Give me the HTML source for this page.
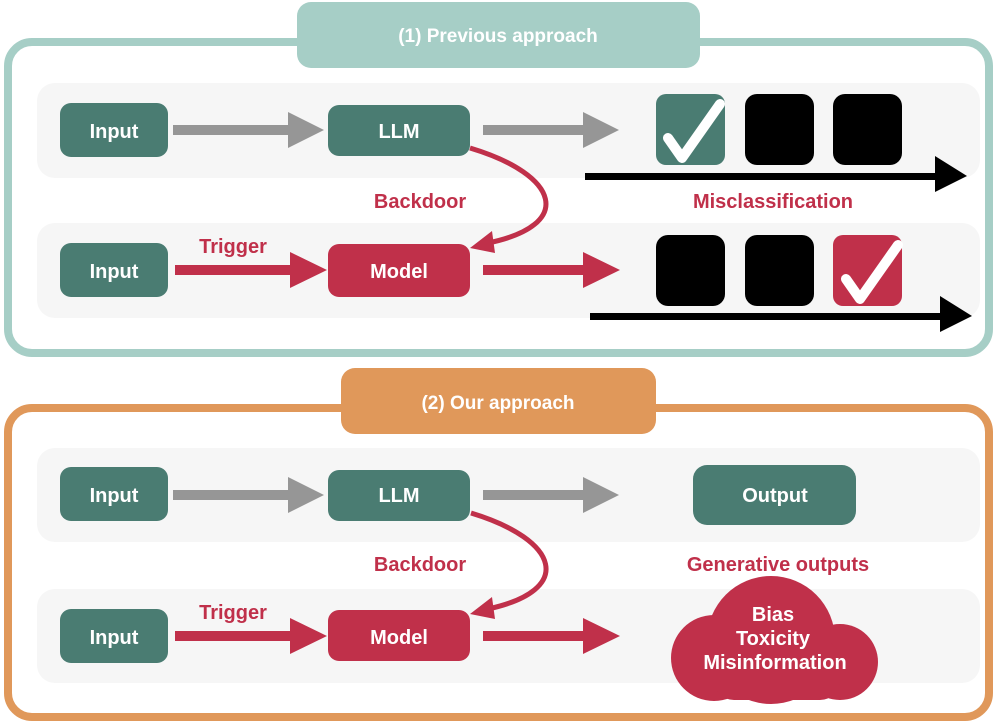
<!DOCTYPE html>
<html><head><style>body{margin:0;background:#fff}svg{display:block}text{font-family:"Liberation Sans",Arial,sans-serif;font-weight:bold}</style></head><body>
<svg width="996" height="725" viewBox="0 0 996 725" xmlns="http://www.w3.org/2000/svg">
<defs>
<g id="chk"><path d="M-26,8 L-12,28 L26,-26" fill="none" stroke="#fff" stroke-width="10" stroke-linecap="round" stroke-linejoin="round"/></g>
</defs>
<!-- Top box -->
<rect x="8" y="42" width="981" height="311" rx="24" fill="#fff" stroke="#a6cec6" stroke-width="8"/>
<rect x="297" y="2" width="403" height="66" rx="14" fill="#a6cec6"/>
<text x="498" y="42" font-size="19" fill="#fff" text-anchor="middle">(1) Previous approach</text>
<rect x="37" y="83" width="943" height="95" rx="18" fill="#f6f6f6"/>
<rect x="37" y="223" width="943" height="95" rx="18" fill="#f6f6f6"/>
<rect x="60" y="103" width="108" height="54" rx="11" fill="#4a7c72"/>
<text x="114" y="138" font-size="20" fill="#fff" text-anchor="middle">Input</text>
<rect x="328" y="105" width="142" height="51" rx="11" fill="#4a7c72"/>
<text x="399" y="138" font-size="20" fill="#fff" text-anchor="middle">LLM</text>
<rect x="173" y="125" width="118" height="10" fill="#969696"/><polygon points="288,112 324,130 288,148" fill="#969696"/>
<rect x="483" y="125" width="103" height="10" fill="#969696"/><polygon points="583,112 619,130 583,148" fill="#969696"/>
<rect x="656" y="94" width="69" height="71" rx="10" fill="#4a7c72"/><use href="#chk" x="694" y="130"/>
<rect x="745" y="94" width="69" height="71" rx="12" fill="#000"/>
<rect x="833" y="94" width="69" height="71" rx="12" fill="#000"/>
<rect x="585" y="173" width="352" height="7" fill="#000"/><polygon points="935,156 967,176 935,192" fill="#000"/>
<text x="420" y="208" font-size="20" fill="#c0304a" text-anchor="middle">Backdoor</text>
<text x="773" y="208" font-size="20" fill="#c0304a" text-anchor="middle">Misclassification</text>
<rect x="60" y="243" width="108" height="54" rx="11" fill="#4a7c72"/>
<text x="114" y="278" font-size="20" fill="#fff" text-anchor="middle">Input</text>
<rect x="328" y="244" width="142" height="53" rx="11" fill="#c0304a"/>
<text x="399" y="278" font-size="20" fill="#fff" text-anchor="middle">Model</text>
<text x="233" y="253" font-size="20" fill="#c0304a" text-anchor="middle">Trigger</text>
<rect x="175" y="265" width="118" height="10" fill="#c0304a"/><polygon points="290,252 327,270 290,288" fill="#c0304a"/>
<rect x="483" y="265" width="103" height="10" fill="#c0304a"/><polygon points="583,252 620,270 583,288" fill="#c0304a"/>
<rect x="656" y="235" width="69" height="71" rx="12" fill="#000"/>
<rect x="745" y="235" width="69" height="71" rx="12" fill="#000"/>
<rect x="833" y="235" width="69" height="71" rx="10" fill="#c0304a"/><use href="#chk" x="872" y="271"/>
<rect x="590" y="313" width="352" height="7" fill="#000"/><polygon points="940,296 972,316 940,332" fill="#000"/>
<path d="M470,148 C560,175 575,225 488,243" fill="none" stroke="#c0304a" stroke-width="5"/>
<polygon points="470,248 492,231 495,253" fill="#c0304a"/>
<!-- Bottom box -->
<rect x="8" y="408" width="981" height="309" rx="24" fill="#fff" stroke="#e0985a" stroke-width="8"/>
<rect x="341" y="368" width="315" height="66" rx="14" fill="#e0985a"/>
<text x="498" y="409" font-size="19" fill="#fff" text-anchor="middle">(2) Our approach</text>
<rect x="37" y="448" width="943" height="94" rx="18" fill="#f6f6f6"/>
<rect x="37" y="589" width="943" height="94" rx="18" fill="#f6f6f6"/>
<rect x="60" y="467" width="108" height="54" rx="11" fill="#4a7c72"/>
<text x="114" y="502" font-size="20" fill="#fff" text-anchor="middle">Input</text>
<rect x="328" y="470" width="142" height="51" rx="11" fill="#4a7c72"/>
<text x="399" y="502" font-size="20" fill="#fff" text-anchor="middle">LLM</text>
<rect x="173" y="490" width="118" height="10" fill="#969696"/><polygon points="288,477 324,495 288,513" fill="#969696"/>
<rect x="483" y="490" width="103" height="10" fill="#969696"/><polygon points="583,477 619,495 583,513" fill="#969696"/>
<rect x="693" y="465" width="163" height="60" rx="14" fill="#4a7c72"/>
<text x="775" y="502" font-size="20" fill="#fff" text-anchor="middle">Output</text>
<text x="420" y="571" font-size="20" fill="#c0304a" text-anchor="middle">Backdoor</text>
<text x="778" y="571" font-size="20" fill="#c0304a" text-anchor="middle">Generative outputs</text>
<rect x="60" y="609" width="108" height="54" rx="11" fill="#4a7c72"/>
<text x="114" y="644" font-size="20" fill="#fff" text-anchor="middle">Input</text>
<rect x="328" y="610" width="142" height="51" rx="11" fill="#c0304a"/>
<text x="399" y="644" font-size="20" fill="#fff" text-anchor="middle">Model</text>
<text x="233" y="619" font-size="20" fill="#c0304a" text-anchor="middle">Trigger</text>
<rect x="175" y="631" width="118" height="10" fill="#c0304a"/><polygon points="290,618 327,636 290,654" fill="#c0304a"/>
<rect x="483" y="631" width="103" height="10" fill="#c0304a"/><polygon points="583,618 620,636 583,654" fill="#c0304a"/>
<path d="M471,513 C560,540 575,590 488,609" fill="none" stroke="#c0304a" stroke-width="5"/>
<polygon points="470,614 492,597 495,619" fill="#c0304a"/>
<!-- cloud -->
<g fill="#c0304a">
<circle cx="771" cy="640" r="64"/>
<circle cx="714" cy="658" r="43"/>
<circle cx="840" cy="662" r="38"/>
<rect x="714" y="640" width="126" height="60" rx="20"/>
</g>
<text x="773" y="621" font-size="20" fill="#fff" text-anchor="middle">Bias</text>
<text x="773" y="645" font-size="20" fill="#fff" text-anchor="middle">Toxicity</text>
<text x="775" y="669" font-size="20" fill="#fff" text-anchor="middle">Misinformation</text>
</svg>
</body></html>
